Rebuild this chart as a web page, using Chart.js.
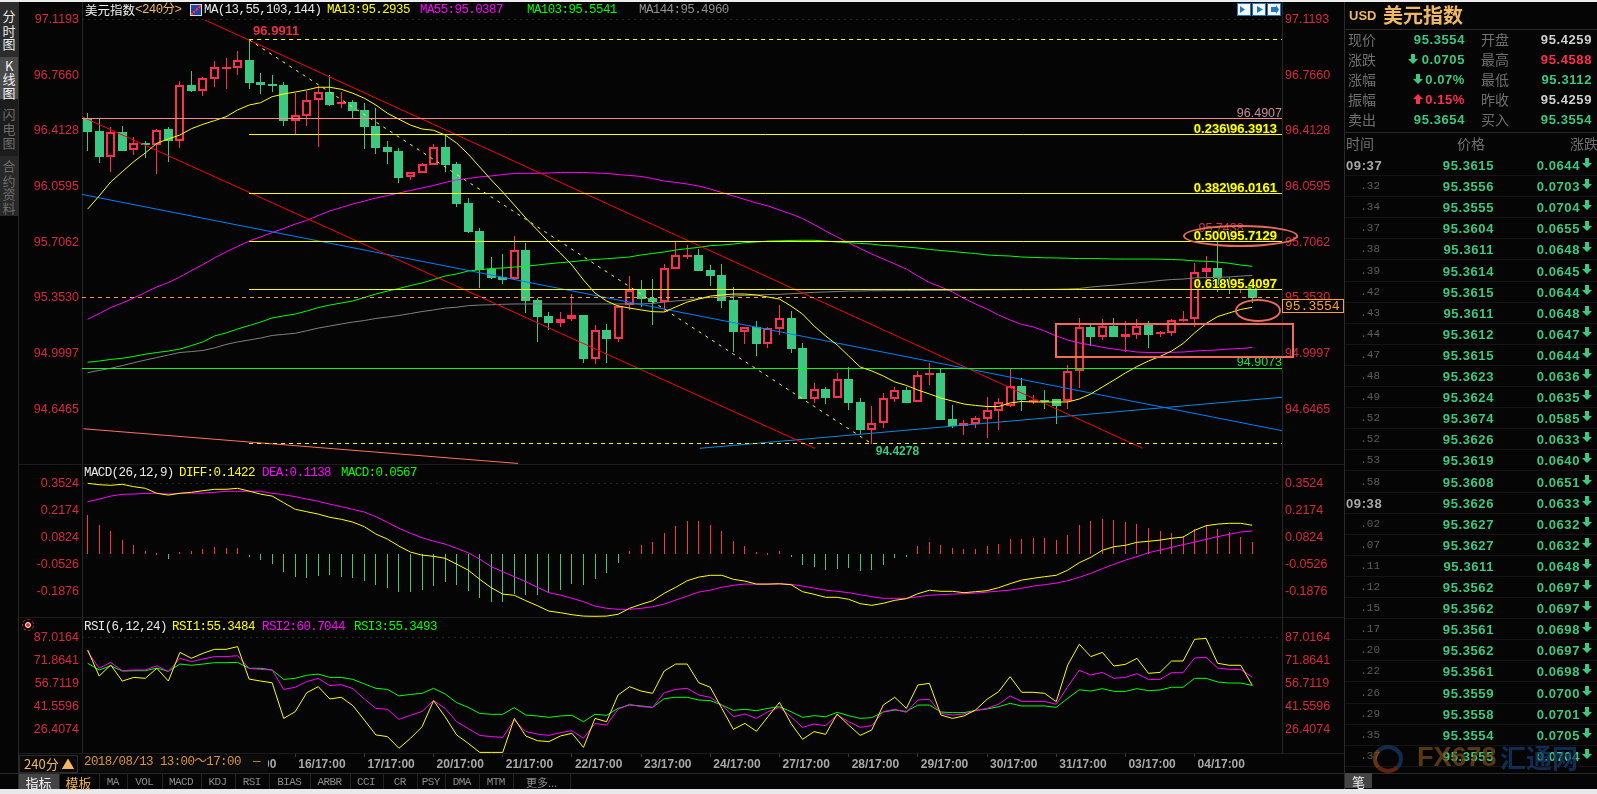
<!DOCTYPE html>
<html>
<head>
<meta charset="utf-8">
<title>美元指数</title>
<script src="https://cdn.jsdelivr.net/npm/chart.js@4"></script>
<style>
html,body{margin:0;padding:0;background:#050505;overflow:hidden}
#app{position:relative;width:1597px;height:794px;overflow:hidden;background:#050505;font-family:"Liberation Sans","Noto Sans CJK SC",sans-serif}
#app canvas{position:absolute}
.t{position:absolute;white-space:nowrap;line-height:1}
.box{position:absolute;box-sizing:border-box}
.mono{font-family:"Liberation Mono","Noto Sans CJK SC",monospace;font-size:12.5px;letter-spacing:-.6px}
.cjk{font-family:"Noto Sans CJK SC",sans-serif}
.num{font-weight:bold;font-size:13px;letter-spacing:.6px}
</style>
</head>
<body>
<div id="app">
  <canvas id="mainChart" width="1326" height="462" style="left:18px;top:2px"></canvas>
  <canvas id="macdChart" width="1326" height="153" style="left:18px;top:464px"></canvas>
  <canvas id="rsiChart" width="1326" height="156" style="left:18px;top:617px"></canvas>
</div>
<script>
// candles, 4 hour bars
const opens = [96.493,96.412,96.249,96.404,96.290,96.336,96.324,96.425,96.351,96.704,96.668,96.744,96.814,96.814,96.863,96.723,96.711,96.704,96.478,96.510,96.607,96.660,96.582,96.596,96.546,96.444,96.311,96.286,96.119,96.148,96.199,96.311,96.203,95.956,95.778,95.535,95.488,95.471,95.657,95.340,95.239,95.196,95.221,95.245,94.968,95.150,95.095,95.306,95.404,95.353,95.327,95.539,95.621,95.626,95.530,95.499,95.340,95.139,95.169,95.063,95.158,95.226,95.036,94.714,94.773,94.720,94.839,94.693,94.517,94.558,94.712,94.769,94.691,94.862,94.877,94.585,94.542,94.555,94.587,94.638,94.667,94.794,94.704,94.707,94.710,94.697,94.888,95.167,95.107,95.175,95.107,95.120,95.180,95.124,95.133,95.211,95.218,95.516,95.541,95.446,95.429,95.435];
const highs = [96.525,96.493,96.440,96.444,96.376,96.347,96.423,96.436,96.730,96.791,96.755,96.855,96.876,96.918,96.9911,96.779,96.766,96.725,96.652,96.666,96.700,96.766,96.658,96.607,96.588,96.556,96.347,96.305,96.154,96.207,96.328,96.385,96.214,95.985,95.795,95.611,95.630,95.746,95.700,95.355,95.262,95.262,95.378,95.247,95.180,95.188,95.306,95.492,95.467,95.473,95.569,95.710,95.689,95.664,95.562,95.567,95.421,95.171,95.207,95.167,95.306,95.270,95.065,94.813,94.788,94.877,94.913,94.716,94.667,94.750,94.786,94.788,94.890,94.938,94.907,94.674,94.579,94.604,94.723,94.716,94.907,94.843,94.737,94.769,94.712,94.928,95.226,95.188,95.218,95.226,95.207,95.220,95.207,95.143,95.218,95.270,95.573,95.619,95.7438,95.486,95.454,95.442];
const lows = [96.287,96.211,96.154,96.287,96.260,96.241,96.140,96.218,96.306,96.660,96.636,96.694,96.679,96.768,96.679,96.649,96.662,96.444,96.393,96.444,96.313,96.571,96.560,96.487,96.300,96.268,96.203,96.084,96.103,96.144,96.195,96.152,95.932,95.765,95.418,95.473,95.442,95.467,95.256,95.074,95.150,95.169,95.207,94.940,94.936,94.940,95.074,95.277,95.298,95.181,95.264,95.537,95.600,95.524,95.429,95.289,95.010,95.061,94.985,95.036,95.120,95.004,94.710,94.688,94.680,94.720,94.642,94.490,94.4278,94.528,94.695,94.688,94.691,94.801,94.581,94.528,94.482,94.528,94.464,94.515,94.663,94.638,94.680,94.648,94.553,94.650,94.780,95.048,95.088,95.105,95.012,95.095,95.036,95.105,95.112,95.202,95.171,95.444,95.393,95.378,95.384,95.319];
const closes = [96.408,96.249,96.404,96.287,96.334,96.324,96.417,96.349,96.702,96.666,96.747,96.817,96.817,96.861,96.717,96.704,96.700,96.478,96.512,96.607,96.658,96.577,96.596,96.541,96.438,96.305,96.281,96.114,96.150,96.201,96.309,96.197,95.951,95.772,95.530,95.480,95.467,95.655,95.336,95.232,95.194,95.221,95.243,94.968,95.148,95.093,95.302,95.402,95.348,95.327,95.541,95.624,95.626,95.524,95.492,95.336,95.137,95.167,95.061,95.161,95.224,95.029,94.712,94.773,94.718,94.837,94.687,94.515,94.558,94.716,94.769,94.688,94.862,94.875,94.581,94.541,94.558,94.589,94.640,94.693,94.792,94.704,94.707,94.706,94.667,94.888,95.167,95.105,95.173,95.105,95.122,95.177,95.118,95.135,95.211,95.220,95.516,95.541,95.435,95.429,95.442,95.3554];

// moving averages
const ma13 = [95.917,96.000,96.089,96.154,96.218,96.273,96.334,96.362,96.387,96.427,96.455,96.478,96.503,96.546,96.577,96.592,96.630,96.647,96.660,96.673,96.690,96.690,96.677,96.652,96.620,96.577,96.525,96.487,96.450,96.425,96.417,96.387,96.336,96.266,96.184,96.102,96.025,95.943,95.860,95.784,95.708,95.638,95.562,95.467,95.384,95.334,95.302,95.289,95.277,95.266,95.264,95.296,95.327,95.346,95.365,95.372,95.378,95.378,95.372,95.359,95.346,95.302,95.251,95.175,95.112,95.055,94.985,94.915,94.890,94.858,94.820,94.798,94.769,94.744,94.718,94.699,94.680,94.671,94.664,94.664,94.687,94.696,94.693,94.693,94.693,94.693,94.712,94.744,94.788,94.832,94.877,94.918,94.953,94.982,95.016,95.064,95.131,95.191,95.235,95.258,95.280,95.2935];
const ma55 = [95.218,95.254,95.292,95.321,95.353,95.388,95.423,95.451,95.486,95.527,95.565,95.607,95.645,95.680,95.714,95.740,95.768,95.794,95.822,95.845,95.876,95.905,95.927,95.949,95.968,95.987,96.003,96.019,96.035,96.051,96.067,96.086,96.102,96.111,96.121,96.127,96.136,96.143,96.144,96.144,96.146,96.149,96.150,96.149,96.146,96.143,96.136,96.130,96.124,96.111,96.095,96.086,96.076,96.063,96.044,96.022,96.000,95.978,95.956,95.937,95.911,95.886,95.857,95.819,95.778,95.740,95.702,95.667,95.632,95.600,95.569,95.537,95.492,95.451,95.423,95.391,95.350,95.315,95.283,95.245,95.213,95.185,95.169,95.143,95.112,95.086,95.067,95.055,95.040,95.029,95.020,95.010,95.007,95.007,95.008,95.010,95.016,95.020,95.023,95.029,95.032,95.0387];
const ma103 = [94.945,94.953,94.963,94.970,94.982,94.996,95.007,95.016,95.029,95.051,95.074,95.112,95.131,95.156,95.178,95.200,95.226,95.239,95.251,95.270,95.292,95.308,95.321,95.334,95.356,95.378,95.397,95.413,95.432,95.448,95.470,95.492,95.505,95.524,95.532,95.540,95.543,95.549,95.554,95.562,95.570,95.577,95.583,95.591,95.597,95.602,95.607,95.613,95.626,95.635,95.645,95.657,95.666,95.674,95.685,95.689,95.695,95.704,95.708,95.714,95.716,95.718,95.719,95.719,95.714,95.708,95.704,95.699,95.695,95.686,95.683,95.676,95.670,95.661,95.654,95.648,95.641,95.635,95.626,95.622,95.619,95.613,95.610,95.608,95.607,95.605,95.603,95.603,95.602,95.600,95.600,95.600,95.600,95.599,95.597,95.594,95.588,95.586,95.581,95.573,95.562,95.5541];
const ma144 = [94.879,94.893,94.907,94.924,94.942,94.959,94.975,94.991,95.007,95.013,95.020,95.036,95.058,95.074,95.086,95.099,95.115,95.122,95.129,95.145,95.162,95.175,95.188,95.200,95.210,95.223,95.232,95.242,95.254,95.267,95.277,95.289,95.294,95.304,95.308,95.310,95.313,95.315,95.315,95.315,95.315,95.315,95.315,95.315,95.315,95.315,95.315,95.315,95.315,95.318,95.327,95.334,95.340,95.350,95.356,95.359,95.365,95.369,95.372,95.375,95.376,95.380,95.384,95.389,95.391,95.394,95.397,95.397,95.399,95.399,95.400,95.400,95.400,95.401,95.401,95.401,95.402,95.403,95.404,95.404,95.405,95.406,95.406,95.407,95.408,95.410,95.413,95.422,95.429,95.434,95.442,95.448,95.455,95.464,95.470,95.473,95.480,95.482,95.484,95.486,95.492,95.4960];

// macd
const macdHist = [0.193,0.143,0.113,0.068,0.043,0.013,0.003,-0.027,0.008,0.012,0.023,0.033,0.028,0.028,-0.007,-0.032,-0.05,-0.09,-0.115,-0.12,-0.112,-0.107,-0.118,-0.12,-0.135,-0.155,-0.17,-0.19,-0.19,-0.182,-0.162,-0.14,-0.157,-0.185,-0.22,-0.24,-0.24,-0.202,-0.207,-0.205,-0.198,-0.182,-0.152,-0.155,-0.125,-0.095,-0.045,0.012,0.043,0.058,0.102,0.138,0.163,0.162,0.143,0.113,0.063,0.038,0.008,0.003,0.013,-0.007,-0.057,-0.068,-0.082,-0.075,-0.072,-0.085,-0.082,-0.057,-0.02,-0.007,0.038,0.058,0.043,0.027,0.023,0.023,0.038,0.048,0.073,0.073,0.078,0.078,0.068,0.093,0.143,0.163,0.173,0.168,0.16,0.147,0.128,0.115,0.103,0.088,0.123,0.143,0.123,0.107,0.083,0.0567];
const diff = [0.352,0.345,0.342,0.347,0.335,0.327,0.302,0.293,0.302,0.307,0.315,0.322,0.322,0.327,0.313,0.298,0.288,0.255,0.222,0.21,0.198,0.182,0.172,0.158,0.135,0.098,0.073,0.038,0.008,-0.007,-0.013,-0.023,-0.052,-0.082,-0.128,-0.17,-0.202,-0.208,-0.235,-0.26,-0.287,-0.295,-0.305,-0.312,-0.313,-0.312,-0.303,-0.273,-0.253,-0.235,-0.198,-0.168,-0.135,-0.117,-0.108,-0.108,-0.128,-0.137,-0.152,-0.152,-0.15,-0.155,-0.19,-0.203,-0.218,-0.218,-0.228,-0.25,-0.258,-0.248,-0.233,-0.225,-0.2,-0.183,-0.188,-0.188,-0.195,-0.19,-0.185,-0.17,-0.15,-0.132,-0.123,-0.115,-0.108,-0.082,-0.045,-0.018,0.017,0.035,0.042,0.057,0.062,0.068,0.077,0.083,0.117,0.14,0.148,0.152,0.152,0.1422];
const dea = [0.26,0.273,0.288,0.297,0.298,0.302,0.302,0.298,0.302,0.303,0.303,0.307,0.312,0.312,0.312,0.312,0.302,0.295,0.285,0.273,0.262,0.248,0.235,0.222,0.208,0.185,0.157,0.127,0.102,0.08,0.063,0.048,0.027,0.005,-0.027,-0.065,-0.09,-0.115,-0.14,-0.168,-0.195,-0.207,-0.223,-0.24,-0.262,-0.273,-0.278,-0.278,-0.273,-0.265,-0.252,-0.232,-0.212,-0.192,-0.182,-0.168,-0.158,-0.152,-0.152,-0.152,-0.152,-0.153,-0.162,-0.172,-0.182,-0.188,-0.195,-0.205,-0.215,-0.223,-0.223,-0.223,-0.215,-0.208,-0.205,-0.202,-0.2,-0.197,-0.192,-0.187,-0.182,-0.173,-0.162,-0.155,-0.147,-0.135,-0.118,-0.098,-0.075,-0.053,-0.032,-0.015,0.005,0.018,0.032,0.045,0.058,0.072,0.085,0.097,0.108,0.1138];

// rsi
const rsi1 = [78.7,61.5,68.8,58.2,60.6,60.0,66.6,58.2,77.1,73.2,76.5,79.1,79.1,80.9,59.5,58.2,57.1,33.6,38.0,50.5,54.5,46.4,47.5,42.0,32.5,22.7,21.6,13.9,20.5,28.1,45.3,34.7,22.7,17.2,11.2,11.2,11.2,33.6,22.0,18.9,18.3,22.0,23.8,14.5,33.6,31.4,49.0,54.5,51.6,50.1,64.8,69.4,69.4,57.1,54.1,40.2,26.4,30.3,25.1,34.7,44.2,30.3,19.8,24.9,23.1,36.5,29.2,22.4,26.0,42.4,47.5,40.2,55.6,56.7,35.8,33.6,35.2,39.1,46.2,51.2,61.1,50.8,50.8,50.1,44.6,68.8,82.4,74.3,77.1,68.1,69.2,73.2,63.3,63.9,71.4,71.4,85.7,86.3,69.9,68.6,68.6,55.3484];
const rsi2 = [77.6,66.6,70.5,65.0,65.5,65.5,68.3,64.4,73.2,71.0,72.7,74.3,74.3,74.9,66.6,65.9,65.5,52.7,54.1,57.8,60.0,55.2,55.8,53.2,46.4,40.2,39.6,33.0,35.6,38.2,45.3,40.2,31.4,27.0,22.4,21.6,21.1,32.5,24.9,23.3,22.4,24.2,25.5,20.5,30.3,29.2,39.6,42.9,41.3,40.9,50.5,52.7,53.4,49.0,47.5,42.4,34.7,36.5,33.6,38.0,40.9,34.7,27.7,29.9,28.8,35.8,31.4,27.7,28.8,38.0,39.6,37.6,45.7,46.2,36.9,35.8,36.5,38.7,40.2,42.9,48.4,44.8,44.8,44.8,42.9,54.5,65.3,62.2,63.9,60.0,60.6,63.1,59.3,59.3,63.7,63.7,73.4,73.8,66.8,65.9,65.9,60.7044];
const rsi3 = [69.9,65.5,68.3,64.8,65.0,65.0,66.8,64.6,69.4,68.6,69.4,70.3,70.3,70.5,66.6,66.6,65.5,59.3,60.0,62.0,62.8,60.6,60.6,59.3,56.3,53.4,52.7,48.4,49.4,50.1,53.4,49.7,44.0,40.9,36.9,36.3,36.3,40.7,35.8,35.2,34.3,35.2,35.6,31.4,36.3,35.6,40.2,42.4,41.8,40.9,46.6,47.5,47.5,45.7,45.3,42.4,38.9,39.6,38.7,40.2,41.3,38.0,34.3,35.4,34.7,37.6,35.4,33.6,34.1,37.8,39.1,38.2,42.4,42.4,37.8,37.4,37.4,38.9,39.8,41.3,43.5,41.8,41.8,41.8,40.9,46.8,52.5,51.6,53.2,51.4,51.4,53.2,51.9,52.3,54.1,54.1,60.0,60.0,57.6,56.9,56.9,55.3493];

// axis ticks
const mainTicks = [97.1193,96.7660,96.4128,96.0595,95.7062,95.3530,94.9997,94.6465];
const macdTicks = [0.3524,0.2174,0.0824,-0.0526,-0.1876];
const rsiTicks = [87.0164,71.8641,56.7119,41.5596,26.4074];
const dayTicks = [12,18,24,30,36,42,48,54,60,66,72,78,84,90,96];
const dayLabels = ['15/17:00','16/17:00','17/17:00','20/17:00','21/17:00','22/17:00','23/17:00','24/17:00','27/17:00','28/17:00','29/17:00','30/17:00','31/17:00','03/17:00','04/17:00'];

// drawn levels and trend lines, as [bar index, price]
const swingHigh = 96.9911, swingLow = 94.4278, lastPrice = 95.3554;
const recentHigh = 95.7438, pinkLevel = 96.4907, greenLevel = 94.9073;
const fibRatios = ['0.236','0.382','0.500','0.618'];
const fibPrices = [96.3913,96.0161,95.7129,95.4097];
const redUpper = [[10.17,97.117],[91.5,94.399]];
const redLower = [[-0.49,96.503],[63.08,94.399]];
const redBottom = [[-0.36,94.523],[37.32,94.303]];
const blueFalling = [[-0.49,96.010],[103.58,94.511]];
const blueRising = [[53.1,94.399],[103.58,94.723]];

// right hand quote table
const tickTimes = ['09:37','.32','.34','.37','.38','.39','.42','.43','.44','.47','.48','.49','.52','.52','.53','.58','09:38','.02','.07','.11','.12','.15','.17','.20','.22','.26','.29','.35','.37'];
const tickPrices = ['95.3615','95.3556','95.3555','95.3604','95.3611','95.3614','95.3615','95.3611','95.3612','95.3615','95.3623','95.3624','95.3674','95.3626','95.3619','95.3608','95.3626','95.3627','95.3627','95.3611','95.3562','95.3562','95.3561','95.3562','95.3561','95.3559','95.3558','95.3554','95.3555'];
const tickChanges = ['0.0644','0.0703','0.0704','0.0655','0.0648','0.0645','0.0644','0.0648','0.0647','0.0644','0.0636','0.0635','0.0585','0.0633','0.0640','0.0651','0.0633','0.0632','0.0632','0.0648','0.0697','0.0697','0.0698','0.0697','0.0698','0.0700','0.0701','0.0705','0.0704'];

const BG = '#050505', UP = '#ff2f50', DOWN = '#3cc880', AXIS_RED = '#d8283f';
const YELLOW = '#ffff00', MAGENTA = '#ff00ff', LIME = '#00ff00', GREY = '#808080';
const X_MIN = -0.49, X_MAX = 103.58;

const app = document.getElementById('app');
function put(text, x, y, color, cls, right) {
  const el = document.createElement('span');
  el.className = 't ' + (cls || '');
  el.textContent = text;
  el.style.left = x + 'px';
  el.style.top = y + 'px';
  el.style.color = color;
  el.style.transform = right ? 'translate(-100%,-50%)' : 'translateY(-50%)';
  app.appendChild(el);
  return el;
}
function box(x, y, w, h, css) {
  const el = document.createElement('div');
  el.className = 'box';
  el.style.cssText = `left:${x}px;top:${y}px;width:${w}px;height:${h}px;` + css;
  app.appendChild(el);
  return el;
}
function glyph(x, y, w, h, pts, color) {
  const ns = 'http://www.w3.org/2000/svg';
  const svg = document.createElementNS(ns, 'svg');
  svg.setAttribute('width', w); svg.setAttribute('height', h);
  svg.style.cssText = `position:absolute;left:${x}px;top:${y}px`;
  const p = document.createElementNS(ns, 'polygon');
  p.setAttribute('points', pts); p.setAttribute('fill', color);
  svg.appendChild(p);
  app.appendChild(svg);
}

// snap bars and flat rules to whole pixels so they stay one pixel wide
const crispMarks = {
  id: 'crispMarks',
  afterDatasetsUpdate(chart) {
    chart.getSortedVisibleDatasetMetas().forEach(meta => {
      if (meta.type === 'bar') {
        meta.data.forEach(el => {
          el.x = Math.floor(el.x) + 0.5;
          const a = Math.round(el.y), b = Math.round(el.base);
          el.y = a;
          el.base = Math.abs(a - b) < 2 ? a + 2 : b;
        });
      } else if (meta.data.length === 2 && meta.data[0].y === meta.data[1].y) {
        const y = Math.floor(meta.data[0].y) + 0.5;
        meta.data[0].y = y;
        meta.data[1].y = y;
      }
    });
  }
};

const FIB_FONT = 'bold 13px "Liberation Sans"';
const mainNotes = [
  {at: [14, swingHigh], dx: 4, dy: -8, text: swingHigh.toFixed(4), color: '#e6304a', font: 'bold 13px "Liberation Sans"', align: 'left'},
  {at: [103.58, pinkLevel], dx: 0, dy: -5.5, text: pinkLevel.toFixed(4), color: '#c88d98', font: '12.5px "Liberation Sans"', align: 'right'},
  {at: [98, recentHigh], dx: 26, dy: -8, text: recentHigh.toFixed(4), color: '#c8384a', font: '12.5px "Liberation Sans"', align: 'right'},
  {at: [103.58, greenLevel], dx: 0, dy: -6, text: greenLevel.toFixed(4), color: '#20e040', font: '12.5px "Liberation Sans"', align: 'right'},
  {at: [68, swingLow], dx: 4, dy: 8, text: swingLow.toFixed(4), color: '#3cc880', font: 'bold 12px "Liberation Sans"', align: 'left'}
].concat(fibRatios.map((r, i) => ({
  at: [103.58, fibPrices[i]], dx: -5, dy: -5, text: r + '\\' + fibPrices[i].toFixed(4),
  color: YELLOW, font: FIB_FONT, align: 'right', outline: true
})));

const priceNotes = {
  id: 'priceNotes',
  afterDatasetsDraw(chart) {
    const ctx = chart.ctx;
    ctx.save();
    ctx.textBaseline = 'middle';
    mainNotes.forEach(n => {
      const px = chart.scales.x.getPixelForValue(n.at[0]) + n.dx;
      const py = chart.scales.y.getPixelForValue(n.at[1]) + n.dy;
      ctx.font = n.font;
      ctx.textAlign = n.align;
      if (n.outline) {
        ctx.strokeStyle = '#1a1a00';
        ctx.lineWidth = 2;
        ctx.strokeText(n.text, px, py);
      }
      ctx.fillStyle = n.color;
      ctx.fillText(n.text, px, py);
    });
    ctx.restore();
  }
};

const points = vals => vals.map((y, x) => ({x, y}));
const segment = pts => pts.map(p => ({x: p[0], y: p[1]}));
const hline = (from, price) => [{x: from, y: price}, {x: X_MAX, y: price}];

function line(data, color, extra) {
  return Object.assign({type: 'line', data, borderColor: color, borderWidth: 1, pointRadius: 0, tension: 0, order: 1, yAxisID: 'y'}, extra || {});
}

function yAxis(pos, lo, hi, ticks, width) {
  return {
    type: 'linear', position: pos, min: lo, max: hi,
    afterBuildTicks: s => { s.ticks = ticks.map(value => ({value})); },
    afterFit: s => { s.width = width; s.paddingTop = 0; s.paddingBottom = 0; },
    ticks: {color: AXIS_RED, font: {family: 'Liberation Sans', size: 12.5}, padding: 3, callback: v => v.toFixed(4)},
    grid: {drawTicks: false, color: c => (c.tick && c.tick.value === ticks[0]) ? '#262626' : 'transparent'},
    border: {color: '#262626', dash: [1, 5]}
  };
}

function panel(id, datasets, lo, hi, ticks, xAxis, plugins) {
  return new Chart(document.getElementById(id), {
    type: 'bar',
    data: {datasets},
    plugins: [crispMarks].concat(plugins || []),
    options: {
      responsive: false,
      animation: false,
      events: [],
      layout: {padding: 0},
      plugins: {legend: {display: false}, tooltip: {enabled: false}},
      scales: {
        x: xAxis,
        y: yAxis('left', lo, hi, ticks, 64),
        yr: yAxis('right', lo, hi, ticks, 62)
      }
    }
  });
}

const hiddenX = {type: 'linear', min: X_MIN, max: X_MAX, offset: false, display: false, grid: {offset: false}};

const candleColors = closes.map((c, i) => c >= opens[i] ? UP : DOWN);
const flat = {order: 2};

panel('mainChart', [
  {type: 'bar', data: highs.map((h, i) => ({x: i, y: [lows[i], h]})), backgroundColor: candleColors, borderWidth: 0, barThickness: 1, grouped: false, inflateAmount: 0, order: 6, yAxisID: 'y'},
  {type: 'bar', data: opens.map((o, i) => ({x: i, y: [o, closes[i]]})), backgroundColor: closes.map((c, i) => c >= opens[i] ? BG : DOWN), borderColor: candleColors, borderWidth: 2, borderSkipped: false, barThickness: 9, grouped: false, inflateAmount: 0, order: 5, yAxisID: 'y'},
  line(points(ma144), GREY, {order: 4}),
  line(points(ma103), LIME, {order: 4}),
  line(points(ma55), MAGENTA, {order: 4}),
  line(segment(redBottom), '#ff7060', {order: 3}),
  line(segment(redUpper), '#ff0000', {order: 3}),
  line(segment(redLower), '#ff0000', {order: 3}),
  line(segment(blueFalling), '#0080ff', {order: 3}),
  line(segment(blueRising), '#0a88e0', {order: 3}),
  line(hline(X_MIN, pinkLevel), '#ff8a8a', flat),
  line(hline(X_MIN, greenLevel), LIME, flat),
  line(hline(X_MIN, lastPrice), '#ffa040', {...flat, borderDash: [4, 4]}),
  line(hline(14, swingHigh), YELLOW, {...flat, borderDash: [4, 4]}),
  line(hline(14, swingLow), YELLOW, {...flat, borderDash: [4, 4]}),
  line([{x: 14, y: swingHigh}, {x: 68, y: swingLow}], YELLOW, {order: 2, borderDash: [3, 5]}),
  ...fibPrices.map(p => line(hline(14, p), YELLOW, flat)),
  line(points(ma13), YELLOW, {order: 1})
], 94.2995, 97.2309, mainTicks, hiddenX, [priceNotes]);

panel('macdChart', [
  {type: 'bar', data: points(macdHist), backgroundColor: macdHist.map(v => v >= 0 ? UP : DOWN), borderWidth: 0, barThickness: 1, grouped: false, inflateAmount: 0, order: 3, yAxisID: 'y'},
  line(points(diff), YELLOW, {order: 1}),
  line(points(dea), MAGENTA, {order: 2})
], -0.3165, 0.4485, macdTicks, hiddenX);

panel('rsiChart', [
  line(points(rsi3), LIME, {order: 3}),
  line(points(rsi2), MAGENTA, {order: 2}),
  line(points(rsi1), YELLOW, {order: 1})
], 10.8, 100.4, rsiTicks, {
  type: 'linear', min: X_MIN, max: X_MAX, offset: false,
  afterBuildTicks: s => { s.ticks = dayTicks.map(value => ({value})); },
  afterFit: s => { s.height = 20; s.paddingLeft = 0; s.paddingRight = 0; },
  ticks: {
    color: '#a8a8a8', font: {family: 'Liberation Sans', size: 12, weight: 'bold'},
    align: 'start', labelOffset: 3, maxRotation: 0, autoSkip: false, padding: 0,
    callback: v => dayLabels[dayTicks.indexOf(v)]
  },
  grid: {drawOnChartArea: false, color: '#3a3a3a', tickLength: 4, offset: false},
  border: {color: '#1e1e1e'}
});

// window strips and panel rules
box(0, 0, 1597, 2, 'background:#ececec');
box(0, 789, 1597, 5, 'background:#e9e9ec');
[464, 617, 753].forEach(y => box(18, y, 1326, 1, 'background:#1c1c1c'));
box(0, 773, 1597, 1, 'background:#2a2a2a');
box(1344, 2, 1, 787, 'background:#2a2a2a');

// side tabs
box(0, 2, 18, 55, 'background:#2c2c2c');
box(0, 57, 18, 42, 'background:#4a4a4a');
box(0, 99, 18, 57, 'background:#1c1c1c');
box(0, 156, 18, 60, 'background:#282828');
box(18, 2, 1, 787, 'background:#2a2a2a');
[['分',15,'#e8e8e8'],['时',30,'#e8e8e8'],['图',43,'#e8e8e8'],['K',65,'#f0f0f0'],['线',78,'#f0f0f0'],['图',92,'#f0f0f0'],
 ['闪',113,'#6c6c6c'],['电',128,'#6c6c6c'],['图',142,'#6c6c6c'],['合',165,'#6c6c6c'],['约',180,'#6c6c6c'],['资',193,'#6c6c6c'],['料',207,'#6c6c6c']]
  .forEach(c => { put(c[0], c[0] === 'K' ? 5 : 2.5, c[1], c[2], 'cjk').style.fontSize = '13px'; });

// chart headers
const h1 = put('美元指数', 85, 10, '#f0f0f0', 'cjk'); h1.style.fontSize = '12.5px';
put('<240分>', 135, 10, '#f0b860', 'mono');
box(190, 4, 12, 12, 'background:linear-gradient(135deg,#2244aa 45%,#ff3030 45%,#ff3030 55%,#2244aa 55%);border:1px solid #ddd');
put('MA(13,55,103,144)', 204, 10, '#e8e8e8', 'mono');
put('MA13:95.2935', 327, 10, YELLOW, 'mono');
put('MA55:95.0387', 420, 10, MAGENTA, 'mono');
put('MA103:95.5541', 527, 10, LIME, 'mono');
put('MA144:95.4960', 639, 10, '#909090', 'mono');

put('MACD(26,12,9)', 84, 473, '#e8e8e8', 'mono');
put('DIFF:0.1422', 179, 473, YELLOW, 'mono');
put('DEA:0.1138', 262, 473, MAGENTA, 'mono');
put('MACD:0.0567', 341, 473, LIME, 'mono');

put('RSI(6,12,24)', 84, 627, '#e8e8e8', 'mono');
put('RSI1:55.3484', 172, 627, YELLOW, 'mono');
put('RSI2:60.7044', 262, 627, MAGENTA, 'mono');
put('RSI3:55.3493', 354, 627, LIME, 'mono');
box(22, 619, 12, 12, 'border:1px dashed #d02020;border-radius:50%');
box(25, 622, 6, 6, 'background:#ff2020;border:1px solid #fff;border-radius:50%');

// zoom buttons above the right axis
[[1237, '3,3 8,6.5 3,10'], [1252, '5,3 11,6.5 5,10'], [1267, '4,4 9,4 9,2 12,6.5 9,11 9,9 4,9']].forEach(b => {
  box(b[0], 3, 14, 13, 'background:#f4f8fc;border:1px solid #1e78c8');
  glyph(b[0], 3, 14, 13, b[1], '#1e78c8');
});

// annotations
box(1055, 323, 239, 35, 'border:2px solid #f26a5a');
box(1183, 225, 115, 22, 'border:2px solid #e86a5a;border-radius:50%');
box(1235, 299, 46, 23, 'border:2px solid #e86a5a;border-radius:50%');
box(1282, 299, 62, 14, 'border:1px solid #ffa030;background:#050505');
const lastTag = put(lastPrice.toFixed(4), 1285, 306, '#ffa030', 'mono'); lastTag.style.fontSize = '13px'; lastTag.style.letterSpacing = '0';

// time row
box(19, 755, 59, 18, 'border:1px solid #2a2a2a;background:#0a0a0a');
const tf = put('240分 ▲', 24, 763, '#f0b860', 'cjk'); tf.style.fontSize = '13px';
box(82, 755, 186, 17, 'background:#0c0c0c');
const crossTime = put('2018/08/13 13:00～17:00', 84, 762, '#d89040', 'mono'); crossTime.style.fontSize = '12.5px';
put('—', 253, 762, '#d89040', 'mono');

// indicator tabs
const tabNames = ['指标','模板','MA','VOL','MACD','KDJ','RSI','BIAS','ARBR','CCI','CR','PSY','DMA','MTM','更多...'];
const tabEdges = [18.5,58.7,98.5,127,161.7,200.5,234.7,268.9,309.7,349.5,382.7,416.8,444.9,478.6,512.8,570.4];
box(18.5, 774, 40, 15, 'background:#444');
tabNames.forEach((name, i) => {
  const x = (tabEdges[i] + tabEdges[i + 1]) / 2;
  const color = i === 0 ? '#f4f4f4' : i === 1 ? '#f0b050' : '#8c8c8c';
  const el = put(name, x, 781.5, color, i < 2 || i === 14 ? 'cjk' : 'mono');
  el.style.transform = 'translate(-50%,-50%)';
  el.style.fontSize = i < 2 ? '13px' : '11px';
  box(tabEdges[i + 1], 774, 1, 15, 'background:#222');
});

// quote panel
const title = put('USD', 1349, 15, '#f0b860', ''); title.style.fontSize = '13px'; title.style.fontWeight = 'bold';
const title2 = put('美元指数', 1383, 15, '#f0b860', 'cjk'); title2.style.fontSize = '20px'; title2.style.fontWeight = 'bold';
box(1345, 29, 252, 1, 'background:#2a2a2a');
box(1345, 132, 252, 1, 'background:#2a2a2a');

const quoteLeft = [['现价','95.3554',DOWN],['涨跌','0.0705',DOWN],['涨幅','0.07%',DOWN],['振幅','0.15%',UP],['卖出','95.3654',DOWN]];
const quoteRight = [['开盘','95.4259','#d0d0d0'],['最高','95.4588',UP],['最低','95.3112',DOWN],['昨收','95.4259','#d0d0d0'],['买入','95.3554',DOWN]];
const DOWN_ARROW = '3,0 7,0 7,5 10,5 5,10 0,5 3,5', UP_ARROW = '5,0 10,5 7,5 7,10 3,10 3,5 0,5';
quoteLeft.forEach((q, i) => {
  const y = 39 + i * 20;
  put(q[0], 1348, y, '#707070', 'cjk').style.fontSize = '14px';
  put(q[1], 1465, y, q[2], 'num', true);
  put(quoteRight[i][0], 1481, y, '#707070', 'cjk').style.fontSize = '14px';
  put(quoteRight[i][1], 1592, y, quoteRight[i][2], 'num', true);
});
glyph(1408, 54, 10, 10, DOWN_ARROW, DOWN);
glyph(1413, 74, 10, 10, DOWN_ARROW, DOWN);
glyph(1413, 94, 10, 10, UP_ARROW, UP);

put('时间', 1346, 143, '#707070', 'cjk').style.fontSize = '14px';
put('价格', 1457, 143, '#707070', 'cjk').style.fontSize = '14px';
put('涨跌', 1570, 143, '#707070', 'cjk').style.fontSize = '14px';
tickTimes.forEach((t, i) => {
  const y = 165 + i * 21.1;
  if (t.length > 3) put(t, 1346, y, '#a8a8a8', 'num');
  else { const el = put(t, 1380, y, '#5c5c5c', 'mono', true); el.style.fontSize = '11px'; el.style.letterSpacing = '0'; }
  put(tickPrices[i], 1494, y, DOWN, 'num', true);
  put(tickChanges[i], 1580, y, DOWN, 'num', true);
  glyph(1582, y - 7, 10, 10, DOWN_ARROW, DOWN);
  box(1345, y + 10, 252, 1, 'background:#141414');
});

// bottom tab and site mark
box(1345, 773, 27, 15, 'background:#444');
put('笔', 1352, 781, '#f0f0f0', 'cjk').style.fontSize = '13px';
box(1373, 745, 30, 28, 'border:4px solid #1a3d70;border-left-color:#8a4a20;border-bottom-color:#8a3018;border-radius:50%;opacity:.7');
const mark1 = put('FX678', 1417, 757, '#7a5018', ''); mark1.style.cssText += 'font-size:27px;font-weight:bold;opacity:.7';
const mark2 = put('汇通网', 1500, 757, '#143a6c', 'cjk'); mark2.style.cssText += 'font-size:26px;font-weight:bold;opacity:.75';
</script>
</body>
</html>
